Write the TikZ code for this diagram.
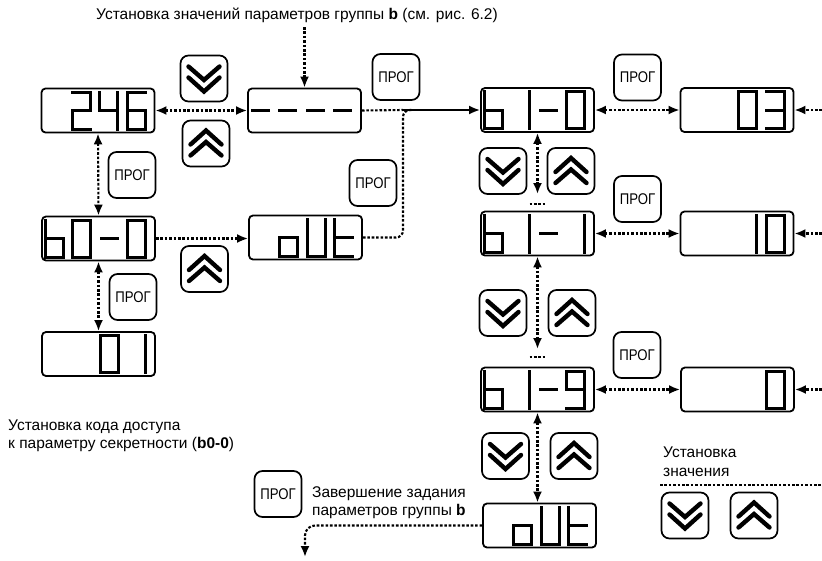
\documentclass[tikz,border=0pt]{standalone}
\usepackage{fontspec}
\setmainfont{Liberation Sans}
\usepackage{graphicx}
\usetikzlibrary{arrows.meta}
% seven-segment glyphs (w=18, h=37)
\makeatletter
\expandafter\def\csname dg@0\endcsname{\draw[seg] (0,0) rectangle (18,37);}
\expandafter\def\csname dg@1\endcsname{\draw[seg] (18,0) -- (18,37);}
\expandafter\def\csname dg@2\endcsname{\draw[seg] (0,0) -- (18,0) -- (18,18.5) -- (0,18.5) -- (0,37) -- (18,37);}
\expandafter\def\csname dg@3\endcsname{\draw[seg] (0,0) -- (18,0) -- (18,37) -- (0,37) (0,18.5) -- (18,18.5);}
\expandafter\def\csname dg@4\endcsname{\draw[seg] (0,0) -- (0,18.5) -- (18,18.5) (18,0) -- (18,37);}
\expandafter\def\csname dg@6\endcsname{\draw[seg] (18,0) -- (0,0) -- (0,37) -- (18,37) -- (18,18.5) -- (0,18.5);}
\expandafter\def\csname dg@9\endcsname{\draw[seg] (0,37) -- (18,37) -- (18,0) -- (0,0) -- (0,18.5) -- (18,18.5);}
\expandafter\def\csname dg@b\endcsname{\draw[seg] (0,0) -- (0,37) -- (18,37) -- (18,18.5) -- (0,18.5);}
\expandafter\def\csname dg@-\endcsname{\draw[seg] (1,18.5) -- (17,18.5);}
\expandafter\def\csname dg@o\endcsname{\draw[seg] (0,18.5) rectangle (18,37);}
\expandafter\def\csname dg@U\endcsname{\draw[seg] (0,0) -- (0,37) -- (18,37) -- (18,0);}
\expandafter\def\csname dg@t\endcsname{\draw[seg] (0,0) -- (0,37) -- (18,37) (0,18.5) -- (18,18.5);}
\newcommand\sdig[3]{\begin{scope}[shift={(#1,#2)}]\csname dg@#3\endcsname\end{scope}}
\makeatother
\newcommand\dispdigits[5]{\begin{scope}[shift={(#1.north west)}]
  \sdig{4}{4.5}{#2}\sdig{31.5}{4.5}{#3}\sdig{59}{4.5}{#4}\sdig{86.5}{4.5}{#5}\end{scope}}
\newcommand\chevdown[1]{\draw[chev,shift={(#1.center)}] (-15.5,-12) -- (0,1.5) -- (15.5,-12) (-15.5,-1) -- (0,13) -- (15.5,-1);}
\newcommand\chevup[1]{\draw[chev,shift={(#1.center)}] (-15.5,12) -- (0,-1.5) -- (15.5,12) (-15.5,1) -- (0,-13) -- (15.5,1);}
\newcommand\progtxt{\scalebox{0.85}[1]{ПРОГ}}
\begin{document}
\begin{tikzpicture}[x=1pt,y=-1pt,
  disp/.style={draw, line width=1.8pt, rounded corners=4pt, minimum width=113pt, minimum height=44pt, inner sep=0pt},
  btn/.style={draw, line width=1.7pt, rounded corners=8pt, minimum width=47pt, minimum height=46pt, inner sep=0pt},
  prog/.style={btn, font=\fontsize{15.5}{15.5}\selectfont},
  seg/.style={line width=2.9pt, line cap=rect, line join=miter},
  chev/.style={line width=4.4pt, line join=miter, line cap=round},
  dl/.style={line width=2.1pt, dash pattern=on 2.6pt off 1.8pt},
  tip/.style={-{Latex[length=11pt,width=9pt]}},
  tipboth/.style={{Latex[length=11pt,width=9pt]}-{Latex[length=11pt,width=9pt]}},
  lbl/.style={inner sep=0pt, font=\fontsize{15.5}{18.5}\selectfont, align=left}]
\useasboundingbox (0,0) rectangle (822,560);
% displays
\node[disp] (d246) at (98,110.5) {};
\node[disp] (dash) at (304.5,110.5) {};
\node[disp] (b00)  at (98.5,238.5) {};
\node[disp] (d01)  at (98.5,354) {};
\node[disp] (out1) at (305.5,237.5) {};
\node[disp] (b10)  at (537.5,110) {};
\node[disp] (d03)  at (737,110) {};
\node[disp] (b11)  at (537.5,233.5) {};
\node[disp] (d10)  at (737,233.5) {};
\node[disp] (b19)  at (537.5,389.5) {};
\node[disp] (d0)   at (737.5,389.5) {};
\node[disp] (out2) at (539.5,525.5) {};
\dispdigits{d246}{}{2}{4}{6}
\dispdigits{dash}{-}{-}{-}{-}
\dispdigits{b00}{b}{0}{-}{0}
\dispdigits{d01}{}{}{0}{1}
\dispdigits{out1}{}{o}{U}{t}
\dispdigits{b10}{b}{1}{-}{0}
\dispdigits{d03}{}{}{0}{3}
\dispdigits{b11}{b}{1}{-}{1}
\dispdigits{d10}{}{}{1}{0}
\dispdigits{b19}{b}{1}{-}{9}
\dispdigits{d0}{}{}{}{0}
\dispdigits{out2}{}{o}{U}{t}
% buttons
\node[btn] (dn1) at (204,78.5) {};
\node[btn] (up1) at (206,143.5) {};
\node[prog] (pg1) at (396,77) {\progtxt};
\node[prog] (pg2) at (132,175) {\progtxt};
\node[prog] (pg3) at (373,183) {\progtxt};
\node[btn] (up2) at (204.5,269) {};
\node[prog] (pg4) at (133,297) {\progtxt};
\node[prog] (pg5) at (637.5,77.5) {\progtxt};
\node[btn] (dn3) at (503,171) {};
\node[btn] (up3) at (571,171) {};
\node[prog] (pg6) at (637.5,199) {\progtxt};
\node[btn] (dn4) at (503,313) {};
\node[btn] (up4) at (572,313) {};
\node[prog] (pg7) at (637,355) {\progtxt};
\node[btn] (dn5) at (505.5,456) {};
\node[btn] (up5) at (574,456) {};
\node[prog] (pg8) at (278,494) {\progtxt};
\node[btn] (dn6) at (685,515.5) {};
\node[btn] (up6) at (754,515.5) {};
\chevdown{dn1}\chevup{up1}\chevup{up2}
\chevdown{dn3}\chevup{up3}\chevdown{dn4}\chevup{up4}
\chevdown{dn5}\chevup{up5}\chevdown{dn6}\chevup{up6}
% texts (base anchor = baseline of the last line)
\node[lbl, anchor=base west] (title) at (96,19.5) {Установка значений параметров группы \textbf{b} (см. рис. 6.2)};
\node[lbl, anchor=base west] (t1) at (8,448.5) {Установка кода доступа\\к параметру секретности (\textbf{b0-0})};
\node[lbl, anchor=base west] (t2) at (312,515.5) {Завершение задания\\параметров группы \textbf{b}};
\node[lbl, anchor=base west] (t3) at (663,476) {Установка\\значения};
% coordinates
\coordinate (jn) at (403,110);
\coordinate (ttop) at (304.5,27);
\coordinate (e1) at (822,110);
\coordinate (e2) at (822,233.5);
\coordinate (e3) at (822,389.5);
\coordinate (c1) at (537.5,194);
\coordinate (c2) at (537.5,349);
\coordinate (exitc) at (305,557);
\coordinate (sl) at (660,485);
\coordinate (sr) at (822,485);
% connectors
\draw[dl,tip] (ttop) -- (dash.north);
\draw[dl,tipboth] (d246.east) -- (dash.west);
\draw[dl,tipboth] (d246.south) -- (b00.north);
\draw[dl,tipboth] (b00.south) -- (d01.north);
\draw[dl,tip] (b00.east) -- (b00.east -| out1.west);
\draw[dl] (dash.east) -- (jn);
\draw[dl,rounded corners=7pt] (out1.east) -- (jn |- out1.east) -- (jn) -- ([xshift=9pt]jn);
\draw[line width=2.1pt,tip] (jn) -- (b10.west);
\draw[dl,tipboth] (b10.east) -- (d03.west);
\draw[dl,tip] (e1) -- (d03.east);
\draw[dl,tipboth] (b11.east) -- (d10.west);
\draw[dl,tip] (e2) -- (d10.east);
\draw[dl,tipboth] (b19.east) -- (d0.west);
\draw[dl,tip] (e3) -- (d0.east);
\draw[dl,tipboth] (b10.south) -- (c1);
\draw[dl] (529.5,204) -- (545.5,204);
\draw[dl,tipboth] (b11.south) -- (c2);
\draw[dl] (529.5,357) -- (545.5,357);
\draw[dl,tipboth] (b19.south) -- (b19.south |- out2.north);
\draw[dl,tip,rounded corners=10pt] (out2.west) -- (exitc |- out2.west) -- (exitc);
\draw[dl] (sl) -- (sr);
\end{tikzpicture}
\end{document}
